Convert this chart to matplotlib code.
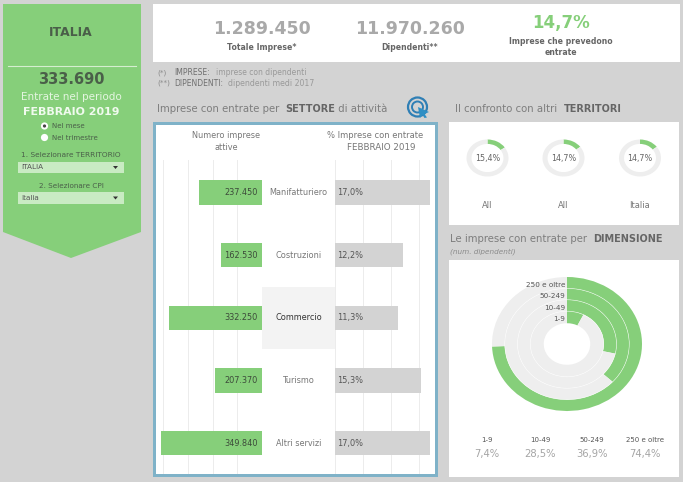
import matplotlib
matplotlib.use('Agg')
import matplotlib.pyplot as plt
from matplotlib.patches import Rectangle, Polygon, Circle

W, H = 683, 482
GREEN = '#86cf7a'
BG = '#d3d3d3'
RING = '#eeeeee'
DARK = '#4f4f4f'
MID = '#777777'
LIGHT = '#a9a9a9'

# sector chart. bar lengths are read off the gridlines, they don't follow the printed labels
sectors = ['Manifatturiero', 'Costruzioni', 'Commercio', 'Turismo', 'Altri servizi']
imprese = [256000, 166000, 376000, 190000, 410000]
imprese_labels = ['237.450', '162.530', '332.250', '207.370', '349.840']
quota = [17.0, 12.2, 11.3, 15.3, 17.0]
quota_labels = ['17,0%', '12,2%', '11,3%', '15,3%', '17,0%']
left_ticks = [100000, 200000, 300000, 400000]
right_ticks = [0, 5, 10, 15]

# territory donuts
territori = ['All', 'All', 'Italia']
territori_val = [15.4, 14.7, 14.7]
territori_lab = ['15,4%', '14,7%', '14,7%']

# size donut, outer ring first
dimensioni = ['250 e oltre', '50-249', '10-49', '1-9']
dimensioni_val = [74.4, 36.9, 28.5, 7.4]
dimensioni_lab = ['74,4%', '36,9%', '28,5%', '7,4%']

plt.rcParams['font.family'] = 'DejaVu Sans'
fig = plt.figure(figsize=(W / 100, H / 100), dpi=100, facecolor=BG)


def box(x0, y0, x1, y1):
    ax = fig.add_axes([x0 / W, 1 - y1 / H, (x1 - x0) / W, (y1 - y0) / H])
    ax.patch.set_alpha(0)
    return ax


# page layer in pixel coordinates
page = fig.add_axes([0, 0, 1, 1], zorder=0)
page.set_xlim(0, W)
page.set_ylim(H, 0)
page.axis('off')


def T(x, y, s, size=6.5, color=MID, weight='normal', ha='center', **kw):
    return page.text(x, y, s, fontsize=size, color=color, fontweight=weight,
                     ha=ha, va='center', **kw)


def runs(x, y, parts, size=7.3, color='#7d7d7d'):
    # text with mixed weights, one piece after the other
    r = fig.canvas.get_renderer()
    for s, w in parts:
        if w == 'bold':
            t = T(x, y, s, size=size * 0.96, color='#666666', weight=w, ha='left')
        else:
            t = T(x, y, s, size=size, color=color, ha='left')
        x += t.get_window_extent(r).width + (size * 0.42 if s.endswith(' ') else 0)


def rect(x0, y0, x1, y1, color, **kw):
    page.add_patch(Rectangle((x0, y0), x1 - x0, y1 - y0, fc=color, ec='none', **kw))


# left panel
page.add_patch(Polygon([(3, 4), (141, 4), (141, 232), (71, 258), (3, 232)], fc=GREEN, ec='none'))
page.plot([8, 136], [66, 66], color='#d5eed0', lw=0.8)
T(71, 33, 'ITALIA', 8.9, '#4a5f49', 'bold')
T(71, 80, '333.690', 10.5, '#4a5f49', 'bold')
T(71, 96.5, 'Entrate nel periodo', 7.5, '#e4f5e0')
T(71, 112, 'FEBBRAIO 2019', 7.9, '#f0faee', 'bold')
page.add_patch(Circle((44.5, 126), 3.6, fc='white', ec='none'))
page.add_patch(Circle((44.5, 126), 1.6, fc='#444444', ec='none'))
page.add_patch(Circle((44.5, 137.5), 3.6, fc='white', ec='none'))
T(52, 126, 'Nel mese', 5, '#4a5f49', ha='left')
T(52, 137.5, 'Nel trimestre', 5, '#4a5f49', ha='left')
T(71, 155, '1. Selezionare TERRITORIO', 5.3, '#4a5f49')
T(71, 185.5, '2. Selezionare CPI', 5.2, '#4a5f49')
for y0, label in [(161.5, 'ITALIA'), (192, 'Italia')]:
    rect(18, y0, 124, y0 + 11.5, '#c9ebc3')
    T(21, y0 + 5.8, label, 5.2, '#555555', ha='left')
    page.add_patch(Polygon([(113, y0 + 4.5), (118, y0 + 4.5), (115.5, y0 + 7.5)], fc='#333333', ec='none'))

# KPI strip
rect(153, 4, 680, 62, 'white')
T(262, 29.5, '1.289.450', 12.5, LIGHT, 'bold')
T(262, 47, 'Totale Imprese*', 5.6, '#666666', 'bold')
T(410, 29.5, '11.970.260', 12.5, LIGHT, 'bold')
T(410, 47, 'Dipendenti**', 5.6, '#666666', 'bold')
T(561, 23, '14,7%', 12, GREEN, 'bold')
T(561, 41, 'Imprese che prevedono', 5.6, '#666666', 'bold')
T(561, 52.5, 'entrate', 5.6, '#666666', 'bold')
T(157, 72.8, '(*)', 5.2, '#8a8a8a', ha='left')
T(174, 72.8, 'IMPRESE:', 5.5, '#6f6f6f', ha='left')
T(216, 72.8, 'imprese con dipendenti', 5.5, '#999999', ha='left')
T(157, 83, '(**)', 5.2, '#8a8a8a', ha='left')
T(174, 83, 'DIPENDENTI:', 5.5, '#6f6f6f', ha='left')
T(228, 83, 'dipendenti medi 2017', 5.6, '#999999', ha='left')

# section headings
runs(157, 108.5, [('Imprese con entrate per ', 'normal'), ('SETTORE', 'bold'), (' di attività', 'normal')])
runs(455, 108.5, [('Il confronto con altri ', 'normal'), ('TERRITORI', 'bold')])
runs(450, 239.5, [('Le imprese con entrate per ', 'normal'), ('DIMENSIONE', 'bold')])
T(450, 252, '(num. dipendenti)', 5.2, '#8a8a8a', ha='left', style='italic')

# click icon
for r_icon, lw in [(9.5, 1.6), (5.5, 1.4)]:
    page.add_patch(Circle((417.5, 107), r_icon, fc='none', ec='#2f7fb5', lw=lw))
page.add_patch(Polygon([(418, 107), (429, 112), (424.5, 114), (427, 117.5), (424.5, 118), (422.5, 115), (420, 118)],
                       fc='#2f8fc4', ec='none'))

# sector frame
rect(153, 122, 438, 477, '#7fb2c8')
rect(156, 125, 435, 474, 'white')
T(226, 136, 'Numero imprese', 5.9, MID)
T(226, 148, 'attive', 5.9, MID)
T(375, 136, '% Imprese con entrate', 6.0, MID)
T(381, 148, 'FEBBRAIO 2019', 6.3, MID)

# sector bars, row step is 62.6 px
rows = list(range(len(sectors)))
row_lim = (4.495, -0.522)
ax_left = box(156, 160, 262, 474)
ax_left.barh(rows, imprese, height=0.39, color=GREEN, zorder=2)
ax_left.set_xlim(100000 * 106 / 24.7, 0)
ax_left.set_ylim(row_lim)
ax_left.set_xticks(left_ticks)
for i, lab in zip(rows, imprese_labels):
    ax_left.text(17400, i, lab, ha='right', va='center', fontsize=5.9, color='#3c4a3a', zorder=3)

ax_mid = box(262, 160, 335, 474)
ax_mid.axhspan(1.5, 2.5, color='#f3f3f3', lw=0)
ax_mid.set_xlim(0, 1)
ax_mid.set_ylim(row_lim)
for i, name in zip(rows, sectors):
    ax_mid.text(0.5, i, name, ha='center', va='center', fontsize=5.9,
                color='#333333' if name == 'Commercio' else MID)

ax_right = box(335, 160, 435, 474)
ax_right.barh(rows, quota, height=0.39, color=BG, zorder=2)
ax_right.set_xlim(0, 100 / 5.59)
ax_right.set_ylim(row_lim)
ax_right.set_xticks(right_ticks)
for i, lab in zip(rows, quota_labels):
    ax_right.text(0.4, i, lab, ha='left', va='center', fontsize=5.9, color='#555555', zorder=3)

for ax in (ax_left, ax_mid, ax_right):
    for s in ax.spines.values():
        s.set_visible(False)
    ax.set_yticks([])
    ax.tick_params(length=0, labelbottom=False)
ax_mid.set_xticks([])
for ax in (ax_left, ax_right):
    ax.grid(axis='x', color='#ececec', lw=0.7, zorder=0)
    ax.set_axisbelow(True)

# territory panel
rect(449, 122, 679, 225, 'white')
for cx, name, v, lab in zip([487.5, 563.5, 640], territori, territori_val, territori_lab):
    ax = box(cx - 21, 139.5, cx + 21, 176.5)
    ax.pie([v, 100 - v], colors=[GREEN, RING], startangle=90, counterclock=False,
           radius=1, wedgeprops=dict(width=0.24, lw=0))
    ax.set_aspect('auto')
    ax.set_xlim(-1, 1)
    ax.set_ylim(-1, 1)
    ax.text(0, 0, lab, ha='center', va='center', fontsize=5.8, color='#666666')
    T(cx, 205, name, 6, MID)

# size panel
rect(449, 260, 679, 477, 'white')
ax_dim = box(492, 277, 642, 411)
radii = [1.0, 0.83, 0.66, 0.49]
for r, v in zip(radii, dimensioni_val):
    ax_dim.pie([v, 100 - v], colors=[GREEN, RING], startangle=90, counterclock=False, radius=r,
               wedgeprops=dict(width=r - 0.31 if r == 0.49 else 0.17, lw=0))
# thin white lines between the rings
for r in radii[1:]:
    ax_dim.add_patch(Circle((0, 0), r, fc='none', ec='white', lw=0.4, alpha=0.8, zorder=3))
ax_dim.set_aspect('auto')
ax_dim.set_xlim(-1, 1)
ax_dim.set_ylim(-1, 1)
ax_dim.set_zorder(1)
for r, name in zip(radii, dimensioni):
    ax_dim.text(-0.02, r - 0.12, name, ha='right', va='center', fontsize=5.2, color='#555555', zorder=4)

for cx, i in zip([487, 540, 592, 645], [3, 2, 1, 0]):
    T(cx, 440, dimensioni[i], 5, '#555555')
    T(cx, 453.7, dimensioni_lab[i], 7.2, '#a5a5a5')

fig.savefig('out.png', dpi=100, facecolor=BG)
